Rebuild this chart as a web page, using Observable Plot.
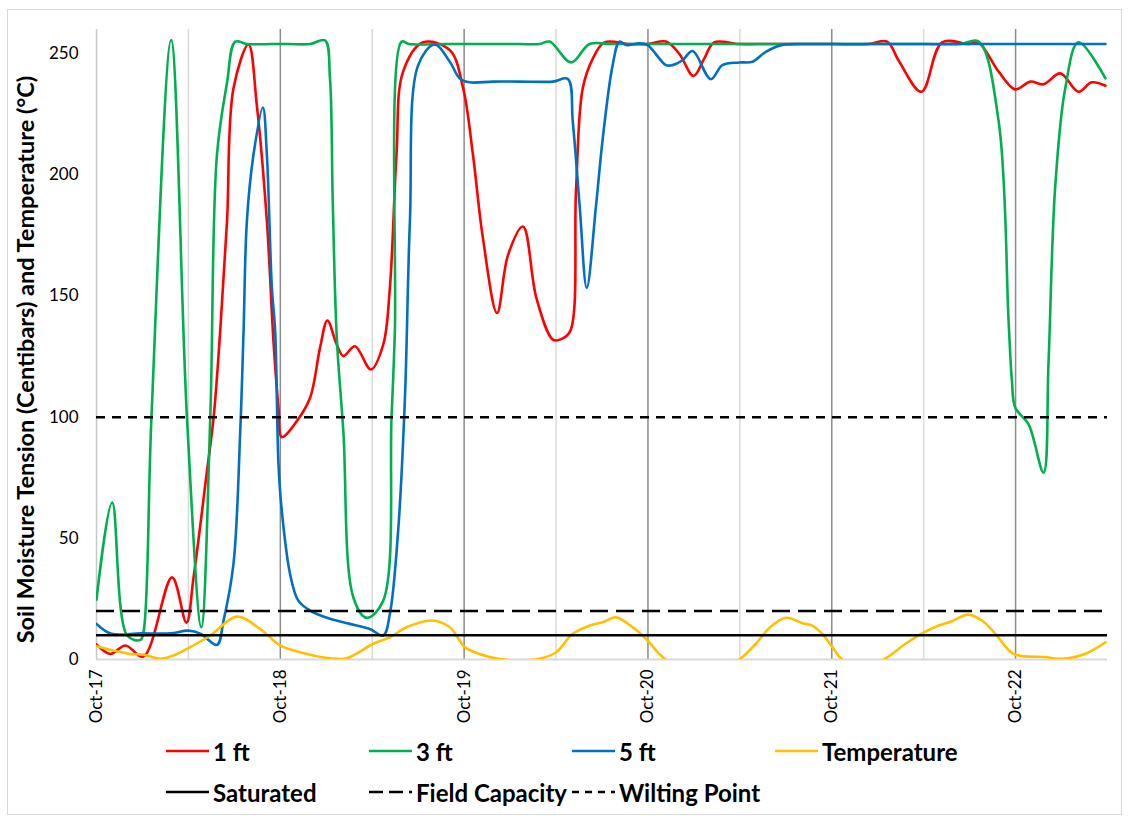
<!DOCTYPE html>
<html>
<head>
<meta charset="utf-8">
<script src="https://cdn.jsdelivr.net/npm/d3@7"></script>
<script src="https://cdn.jsdelivr.net/npm/@observablehq/plot@0.6"></script>
<style>
  html, body { margin: 0; padding: 0; background: #fff; }
  body { width: 1128px; height: 816px; position: relative; overflow: hidden; font-family: Lato, "Open Sans", sans-serif; }
  #frame { position: absolute; left: 7px; top: 9px; width: 1115px; height: 806px; border: 1.5px solid #d9d9d9; box-sizing: border-box; }
  #chart { position: absolute; left: 0; top: 0; }
  #chart g[aria-label="y-axis label"] text { font-weight: bold; font-size: 23.5px; }
  #legend { position: absolute; left: 0; top: 0; width: 1128px; height: 816px; pointer-events: none; }
  .item { position: absolute; display: flex; align-items: center; font-weight: bold; font-size: 24px; color: #000; white-space: nowrap; }
  .item svg { margin-right: 4px; }
</style>
</head>
<body>
<div id="frame"></div>
<div id="chart"></div>
<div id="legend"></div>
<script>
// ---- Data (x = day of October, y = centibars / °C) ----
const days1ft = [17.000,17.076,17.157,17.255,17.411,17.489,17.528,17.601,17.637,17.673,17.710,17.745,17.827,17.872,17.927,17.963,17.990,18.008,18.090,18.162,18.216,18.256,18.307,18.343,18.406,18.493,18.560,18.596,18.632,18.668,18.777,18.922,18.994,19.048,19.102,19.179,19.239,19.320,19.393,19.483,19.528,19.577,19.609,19.645,19.700,19.763,19.900,20.000,20.098,20.170,20.248,20.306,20.360,20.496,20.600,20.800,21.000,21.200,21.301,21.365,21.488,21.600,21.745,21.799,21.908,21.998,22.080,22.152,22.243,22.342,22.414,22.489];
const vals1ft = [6.2,2.3,5.8,1.2,33.9,15.2,33.9,77.8,99.8,135.5,180.8,235.7,253.8,228.9,180.8,131,104,91.8,98.4,108,128.6,139.9,130,125.2,129.3,119.7,130,153.4,208.3,242.6,254.7,251.5,236,208.3,174,143,167,178.7,149.2,132,132.2,135.5,194.5,235.7,248,254.7,254,254,255,250,240.8,248,254.7,254,254,254,254,254,255,247,234.3,254.7,254,254.5,242.6,235.3,238.5,237.4,241.9,234.3,238.2,236.8];

const days3ft = [17.000,17.085,17.167,17.239,17.257,17.299,17.406,17.492,17.570,17.619,17.655,17.710,17.755,17.818,17.950,18.050,18.162,18.243,18.270,18.285,18.307,18.343,18.397,18.470,18.560,18.605,18.623,18.660,18.700,18.900,19.100,19.300,19.410,19.465,19.583,19.682,19.800,20.000,20.300,20.600,20.900,21.200,21.500,21.700,21.799,21.908,21.962,21.980,21.998,22.071,22.152,22.179,22.215,22.270,22.342,22.489];
const vals3ft = [24.7,64.8,9.9,8.1,12,100,255.6,100,13.3,100,208,238,255,254,254,254,254,255.5,240,190,133,94,25.7,17.2,24.3,100,135,255,254,254,254,254,254,255,246.4,254,254,254,254,254,254,254,254,254,255,222,139.6,115,104,97,77.1,122,194.5,235.7,254.7,239.8];

const days5ft = [17.000,17.081,17.239,17.402,17.499,17.565,17.655,17.691,17.745,17.782,17.800,17.818,17.854,17.905,17.927,17.954,17.972,17.990,18.008,18.053,18.098,18.162,18.270,18.379,18.487,18.560,18.596,18.641,18.678,18.705,18.750,18.840,18.922,18.976,19.030,19.157,19.300,19.482,19.564,19.591,19.628,19.667,19.718,19.754,19.808,19.845,19.881,19.953,19.998,20.098,20.134,20.188,20.243,20.342,20.405,20.496,20.569,20.641,20.731,20.822,21.000,21.300,21.600,21.900,22.200,22.489];
const vals5ft = [14.7,10.6,10.8,10.8,11.9,10.7,6.0,16,39.4,94.3,135.5,180.8,208.3,227.8,208,153.4,135.5,80.6,61.4,35.3,24.3,20.2,16.8,14.7,12.6,9.9,18.8,53.1,108,180.8,245.3,253.8,246.7,239.8,238.2,238.5,238.5,238.5,239.6,222,187.7,153.4,187.7,215,245.3,255,253.6,254.3,253.6,245.3,245.3,247.3,251.1,239.5,245.3,246.4,246.7,250.8,253.6,254,254,254,254,254,254,254];

const daysTemp = [17.000,17.185,17.255,17.347,17.418,17.510,17.619,17.764,17.890,17.999,18.107,18.270,18.361,18.505,18.596,18.687,18.822,18.922,18.976,19.003,19.139,19.265,19.410,19.501,19.591,19.700,19.754,19.827,19.917,19.990,20.062,20.116,20.280,20.390,20.496,20.587,20.659,20.750,20.840,20.894,20.948,21.003,21.057,21.150,21.283,21.401,21.491,21.582,21.654,21.741,21.817,21.890,21.989,22.161,22.251,22.378,22.489];
const valsTemp = [5.5,2.3,2.0,0.3,1.6,5.1,9.9,17.7,12.6,5.8,3.0,0.5,0.5,6.5,9.2,13.3,16.1,13.3,7.8,5.1,1,-0.3,0.3,3,10.6,14.4,15.4,17.4,13.3,8.5,2.3,-1,-4,-3,0,6.5,12.9,17.2,15,14,10.6,5.1,0,-3,0,6.5,10.8,14,15.8,18.5,16.1,10.6,2.3,1.0,0.3,2.3,7.1];

const seriesNames = ["1 ft", "3 ft", "5 ft", "Temperature"];
const seriesColors = ["#FF0000", "#00B050", "#0070C0", "#FFC000"];

const refNames = ["Saturated", "Field Capacity", "Wilting Point"];
const refValues = [10, 20, 100];
const refDashes = [null, "18,8", "9,7"];

const dayTicks = [17, 18, 19, 20, 21, 22];
const halfDayLines = [17.5, 18.5, 19.5, 20.5, 21.5];
const yTicks = [0, 50, 100, 150, 200, 250];

// ---- Build tables ----
const seriesData = [
  [days1ft, vals1ft], [days3ft, vals3ft], [days5ft, vals5ft], [daysTemp, valsTemp]
].map(([t, v], k) => t.map((d, i) => ({series: seriesNames[k], t: d, v: v[i]})));

const lineMarks = seriesData.map((rows, k) =>
  Plot.line(rows, {x: "t", y: "v", stroke: seriesColors[k], strokeWidth: 2.6, curve: "catmull-rom", clip: true})
);
const refMarks = refValues.map((v, k) =>
  Plot.ruleY([v], {stroke: "#000", strokeWidth: 2.5, strokeDasharray: refDashes[k] || undefined})
);

const chart = Plot.plot({
  width: 1128,
  height: 740,
  marginLeft: 96,
  marginRight: 21,
  marginTop: 29,
  marginBottom: 81,
  style: {fontFamily: "Lato, 'Open Sans', sans-serif", fontSize: "17px", color: "#000", background: "transparent", overflow: "visible"},
  x: {domain: [17, 22.5]},
  y: {domain: [0, 260]},
  marks: [
    Plot.ruleX(halfDayLines, {stroke: "#d9d9d9", strokeWidth: 1.5}),
    Plot.ruleX(dayTicks.slice(1), {stroke: "#8c8c8c", strokeWidth: 1.5}),
    Plot.ruleX([dayTicks[0]], {stroke: "#c8c8c8", strokeWidth: 1.5}),
    Plot.ruleY([0], {stroke: "#d9d9d9", strokeWidth: 2}),
    ...lineMarks,
    ...refMarks,
    Plot.axisX({ticks: dayTicks, tickFormat: d => `Oct-${d}`, tickRotate: -90, tickSize: 0, tickPadding: 10, label: null}),
    Plot.axisY({ticks: yTicks, tickSize: 0, tickPadding: 18, label: "Soil Moisture Tension (Centibars) and Temperature (°C)", labelAnchor: "center", labelArrow: "none", labelOffset: 79})
  ]
});
document.getElementById("chart").appendChild(chart);

// Nudge the y-axis title so it sits centred on the plot area like the original
const yLab = chart.querySelector('g[aria-label="y-axis label"] text');
if (yLab) {
  const tr = yLab.getAttribute("transform") || "";
  yLab.setAttribute("transform", tr + " translate(-15,0)");
}

// ---- Legend ----
const legend = document.getElementById("legend");
const legendItems = [
  ...seriesNames.map((n, k) => ({name: n, color: seriesColors[k], dash: null})),
  ...refNames.map((n, k) => ({name: n, color: "#000", dash: refDashes[k]}))
];
const colX = [166, 369, 572, 775];
const rowY = [751, 792];
legendItems.forEach((it, i) => {
  const row = i < 4 ? 0 : 1;
  const col = i < 4 ? i : i - 4;
  const div = document.createElement("div");
  div.className = "item";
  div.style.left = colX[col] + "px";
  div.style.top = (rowY[row] - 15) + "px";
  div.style.height = "30px";
  const dash = it.dash === "18,8" ? "14,6" : it.dash === "9,7" ? "7,6" : null;
  div.innerHTML = `<svg width="43" height="6"><line x1="0" y1="3" x2="43" y2="3" stroke="${it.color}" stroke-width="2.5" ${dash ? `stroke-dasharray="${dash}"` : ""}/></svg><span>${it.name}</span>`;
  legend.appendChild(div);
});
</script>
</body>
</html>
